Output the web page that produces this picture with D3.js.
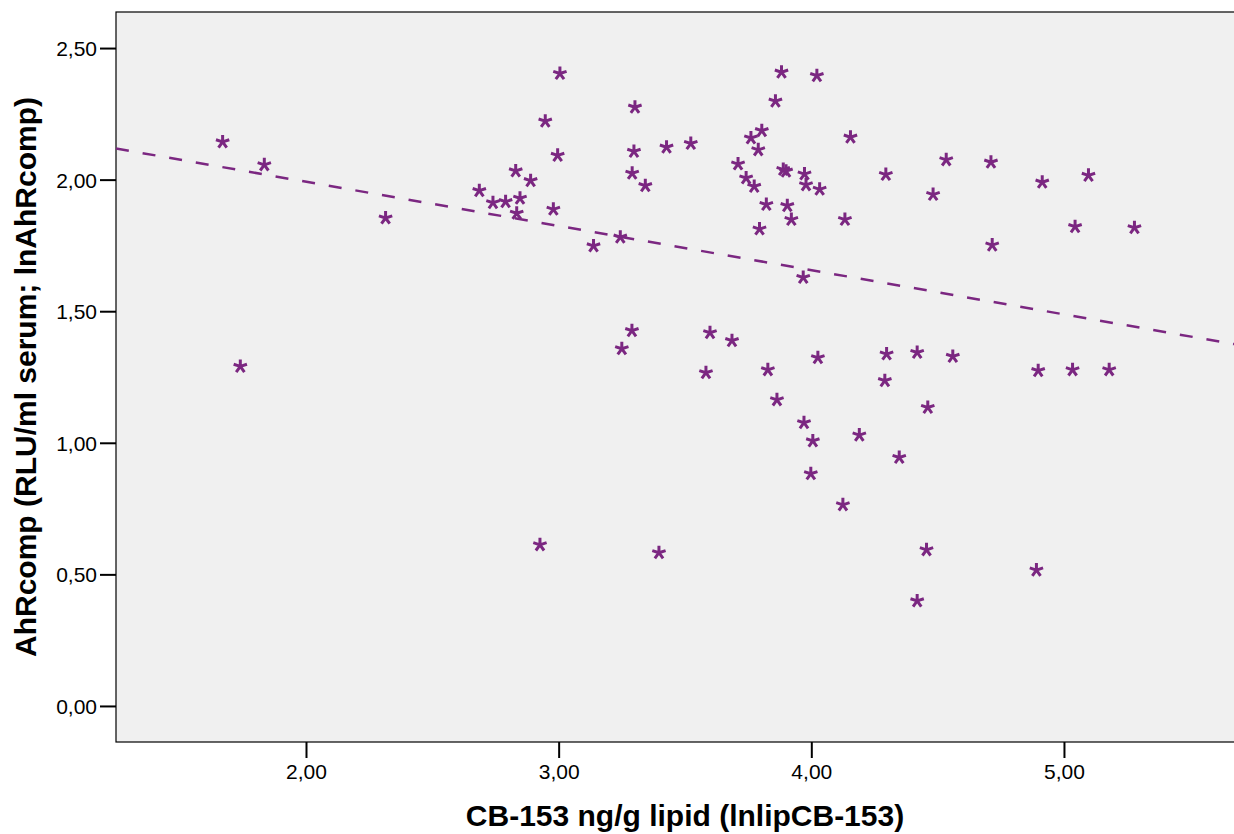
<!DOCTYPE html>
<html>
<head>
<meta charset="utf-8">
<script src="https://cdn.jsdelivr.net/npm/d3@7"></script>
<style>
  body { margin: 0; background: #fff; }
  text { font-family: "Liberation Sans", Arial, sans-serif; }
</style>
</head>
<body>
<div id="chart"></div>
<script>
// data: [lnlipCB-153, lnAhRcomp]
const points = [
  [1.670, 2.147], [1.835, 2.060], [1.740, 1.294], [2.315, 1.858],
  [2.686, 1.962], [2.740, 1.916], [2.790, 1.920], [2.830, 2.037], [2.847, 1.933],
  [2.834, 1.876], [2.889, 2.000], [2.947, 2.226], [2.979, 1.891], [2.996, 2.096],
  [3.005, 2.407], [2.926, 0.616],
  [3.138, 1.752], [3.244, 1.785], [3.250, 1.361], [3.291, 2.028], [3.298, 2.111],
  [3.302, 2.279], [3.290, 1.430], [3.343, 1.981], [3.397, 0.586], [3.427, 2.127],
  [3.523, 2.141],
  [3.599, 1.422], [3.686, 1.392], [3.583, 1.270], [3.828, 1.281], [3.864, 1.167],
  [4.026, 1.327], [4.298, 1.341], [4.291, 1.240], [3.971, 1.080], [4.006, 1.011],
  [4.190, 1.033], [4.348, 0.948], [3.998, 0.886], [4.125, 0.768],
  [4.419, 1.347], [4.560, 1.332], [4.461, 1.138], [4.898, 1.278], [5.034, 1.281],
  [5.179, 1.281], [4.456, 0.597], [4.891, 0.520], [4.419, 0.403],
  [4.295, 2.023], [4.534, 2.079], [4.711, 2.070], [4.482, 1.947], [4.914, 1.994],
  [5.097, 2.020], [4.716, 1.755], [5.044, 1.825], [5.279, 1.821],
  [3.882, 2.412], [4.022, 2.399], [3.858, 2.302], [3.804, 2.190], [3.761, 2.162],
  [4.155, 2.165], [3.790, 2.117], [3.710, 2.063], [3.889, 2.042], [3.900, 2.036],
  [3.973, 2.025], [3.742, 2.010], [3.774, 1.978], [3.979, 1.984], [4.033, 1.967],
  [3.822, 1.909], [3.905, 1.905], [3.921, 1.852], [4.133, 1.852], [3.795, 1.816],
  [3.968, 1.632]
];

// linear fit line: y = intercept + slope * x
const fitIntercept = 2.328;
const fitSlope = -0.168;

const xTicks = [2, 3, 4, 5];
const yTicks = [0, 0.5, 1, 1.5, 2, 2.5];
const xTitle = "CB-153 ng/g lipid (lnlipCB-153)";
const yTitle = "AhRcomp (RLU/ml serum; lnAhRcomp)";

const purple = "#7b2781";

// Set up the SVG container
const svg = d3.select("#chart")
  .append("svg")
  .attr("width", 1234)
  .attr("height", 834);

const plotLeft = 116, plotRight = 1234, plotTop = 12, plotBottom = 742;

// scales (domain extends beyond the visible frame on the right)
const xScale = d3.scaleLinear().domain([1.248, 5.673]).range([plotLeft, plotRight]);
const yScale = d3.scaleLinear().domain([-0.137, 2.637]).range([plotBottom, plotTop]);

const locale = d3.formatLocale({ decimal: ",", thousands: ".", grouping: [3], currency: ["", ""] });
const fmt = locale.format(".2f");

// plot background + frame
svg.append("rect")
  .attr("x", plotLeft)
  .attr("y", plotTop)
  .attr("width", plotRight - plotLeft + 20)
  .attr("height", plotBottom - plotTop)
  .attr("fill", "#f0f0f0")
  .attr("stroke", "#000")
  .attr("stroke-width", 1.2);

svg.append("clipPath")
  .attr("id", "plot-clip")
  .append("rect")
  .attr("x", plotLeft)
  .attr("y", plotTop)
  .attr("width", plotRight - plotLeft)
  .attr("height", plotBottom - plotTop);

// axes
const xAxis = d3.axisBottom(xScale).tickValues(xTicks).tickFormat(fmt).tickSize(16).tickPadding(6);
const yAxis = d3.axisLeft(yScale).tickValues(yTicks).tickFormat(fmt).tickSize(16).tickPadding(3);

const gx = svg.append("g")
  .attr("class", "x-axis")
  .attr("transform", "translate(0," + plotBottom + ")")
  .call(xAxis);

const gy = svg.append("g")
  .attr("class", "y-axis")
  .attr("transform", "translate(" + plotLeft + ",0)")
  .call(yAxis);

[gx, gy].forEach(function (g) {
  g.select(".domain").remove();
  g.selectAll(".tick line").attr("stroke", "#000").attr("stroke-width", 2);
  g.selectAll(".tick text").attr("fill", "#000").style("font-size", "21px");
});
gy.selectAll(".tick text").attr("dy", "0.36em");

// fit line
const fitLine = d3.line()
  .x(function (d) { return xScale(d); })
  .y(function (d) { return yScale(fitIntercept + fitSlope * d); });

svg.append("path")
  .datum(xScale.domain())
  .attr("clip-path", "url(#plot-clip)")
  .attr("fill", "none")
  .attr("stroke", purple)
  .attr("stroke-width", 2.5)
  .attr("stroke-dasharray", "13,14")
  .attr("d", fitLine);

// five-armed asterisk markers
const armLen = 7;
let star = "";
for (let i = 0; i < 5; i++) {
  const a = -Math.PI / 2 + i * 2 * Math.PI / 5;
  star += "M0,0L" + (armLen * Math.cos(a)).toFixed(2) + "," + (armLen * Math.sin(a)).toFixed(2);
}

svg.append("g")
  .selectAll("path")
  .data(points)
  .enter()
  .append("path")
  .attr("transform", function (d) {
    return "translate(" + xScale(d[0]) + "," + (yScale(d[1]) + 1) + ")";
  })
  .attr("d", star)
  .attr("fill", "none")
  .attr("stroke", purple)
  .attr("stroke-width", 3);

// titles
svg.append("text")
  .attr("x", 685)
  .attr("y", 826)
  .attr("text-anchor", "middle")
  .style("font-size", "30px")
  .style("font-weight", "bold")
  .text(xTitle);

svg.append("text")
  .attr("transform", "translate(36,377) rotate(-90)")
  .attr("text-anchor", "middle")
  .style("font-size", "30px")
  .style("font-weight", "bold")
  .text(yTitle);
</script>
</body>
</html>
